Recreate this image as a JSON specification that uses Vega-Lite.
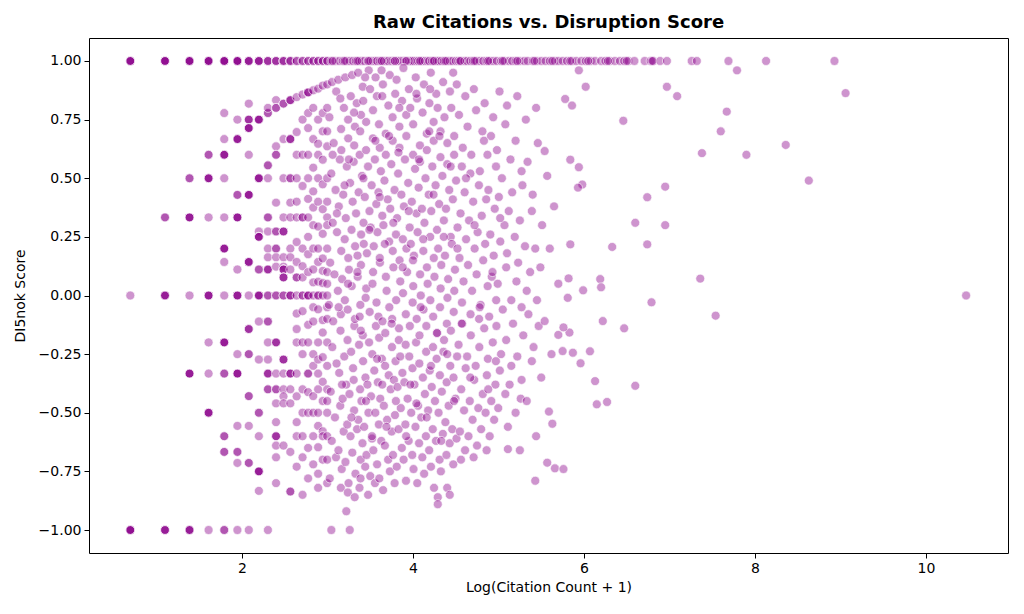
{
"$schema":"https://vega.github.io/schema/vega-lite/v6.json",
"width":919,"height":515,"autosize":"none",
"padding":{"left":89,"top":38,"right":16,"bottom":61},
"background":"white",
"config":{"view":{"stroke":"#000","strokeWidth":1},"font":"DejaVu Sans"},
"title":{"text":"Raw Citations vs. Disruption Score","fontSize":18,"fontWeight":"bold","font":"DejaVu Sans","color":"#000","offset":6,"anchor":"middle"},
"data":{"values":[
{"x":0.693,"y":1},{"x":0.693,"y":1},{"x":0.693,"y":1},{"x":0.693,"y":1},{"x":0.693,"y":1},{"x":0.693,"y":0},{"x":0.693,"y":-1},{"x":0.693,"y":-1},{"x":0.693,"y":-1},{"x":0.693,"y":-1},{"x":0.693,"y":-1},
{"x":1.099,"y":1},{"x":1.099,"y":1},{"x":1.099,"y":1},{"x":1.099,"y":1},{"x":1.099,"y":1},{"x":1.099,"y":0.333},{"x":1.099,"y":0.333},{"x":1.099,"y":0},{"x":1.099,"y":0},{"x":1.099,"y":0},{"x":1.099,"y":0},{"x":1.099,"y":-1},{"x":1.099,"y":-1},{"x":1.099,"y":-1},{"x":1.099,"y":-1},
{"x":1.386,"y":1},{"x":1.386,"y":1},{"x":1.386,"y":1},{"x":1.386,"y":1},{"x":1.386,"y":1},{"x":1.386,"y":0.5},{"x":1.386,"y":0.5},{"x":1.386,"y":0.333},{"x":1.386,"y":0.333},{"x":1.386,"y":0.333},{"x":1.386,"y":0.333},{"x":1.386,"y":0},{"x":1.386,"y":-0.333},{"x":1.386,"y":-0.333},{"x":1.386,"y":-0.333},{"x":1.386,"y":-0.333},{"x":1.386,"y":-1},{"x":1.386,"y":-1},{"x":1.386,"y":-1},{"x":1.386,"y":-1},
{"x":1.609,"y":1},{"x":1.609,"y":1},{"x":1.609,"y":1},{"x":1.609,"y":1},{"x":1.609,"y":1},{"x":1.609,"y":0.6},{"x":1.609,"y":0.6},{"x":1.609,"y":0.5},{"x":1.609,"y":0.5},{"x":1.609,"y":0.5},{"x":1.609,"y":0.5},{"x":1.609,"y":0.333},{"x":1.609,"y":0},{"x":1.609,"y":0},{"x":1.609,"y":0},{"x":1.609,"y":0},{"x":1.609,"y":-0.2},{"x":1.609,"y":-0.333},{"x":1.609,"y":-0.5},{"x":1.609,"y":-0.5},{"x":1.609,"y":-0.5},{"x":1.609,"y":-0.5},{"x":1.609,"y":-1},
{"x":1.792,"y":1},{"x":1.792,"y":1},{"x":1.792,"y":1},{"x":1.792,"y":1},{"x":1.792,"y":1},{"x":1.792,"y":0.778},{"x":1.792,"y":0.667},{"x":1.792,"y":0.6},{"x":1.792,"y":0.6},{"x":1.792,"y":0.6},{"x":1.792,"y":0.6},{"x":1.792,"y":0.5},{"x":1.792,"y":0.333},{"x":1.792,"y":0.2},{"x":1.792,"y":0.2},{"x":1.792,"y":0.2},{"x":1.792,"y":0.2},{"x":1.792,"y":0.143},{"x":1.792,"y":0},{"x":1.792,"y":-0.2},{"x":1.792,"y":-0.2},{"x":1.792,"y":-0.2},{"x":1.792,"y":-0.2},{"x":1.792,"y":-0.333},{"x":1.792,"y":-0.333},{"x":1.792,"y":-0.6},{"x":1.792,"y":-0.6},{"x":1.792,"y":-0.667},{"x":1.792,"y":-0.667},{"x":1.792,"y":-1},{"x":1.792,"y":-1},
{"x":1.946,"y":1},{"x":1.946,"y":1},{"x":1.946,"y":1},{"x":1.946,"y":1},{"x":1.946,"y":1},{"x":1.946,"y":0.75},{"x":1.946,"y":0.667},{"x":1.946,"y":0.667},{"x":1.946,"y":0.667},{"x":1.946,"y":0.667},{"x":1.946,"y":0.429},{"x":1.946,"y":0.429},{"x":1.946,"y":0.333},{"x":1.946,"y":0.333},{"x":1.946,"y":0.333},{"x":1.946,"y":0.333},{"x":1.946,"y":0.111},{"x":1.946,"y":0},{"x":1.946,"y":0},{"x":1.946,"y":0},{"x":1.946,"y":0},{"x":1.946,"y":-0.25},{"x":1.946,"y":-0.333},{"x":1.946,"y":-0.333},{"x":1.946,"y":-0.333},{"x":1.946,"y":-0.333},{"x":1.946,"y":-0.556},{"x":1.946,"y":-0.667},{"x":1.946,"y":-0.667},{"x":1.946,"y":-0.714},{"x":1.946,"y":-1},
{"x":2.079,"y":1},{"x":2.079,"y":1},{"x":2.079,"y":1},{"x":2.079,"y":1},{"x":2.079,"y":0.818},{"x":2.079,"y":0.75},{"x":2.079,"y":0.75},{"x":2.079,"y":0.75},{"x":2.079,"y":0.714},{"x":2.079,"y":0.714},{"x":2.079,"y":0.714},{"x":2.079,"y":0.714},{"x":2.079,"y":0.6},{"x":2.079,"y":0.429},{"x":2.079,"y":0.429},{"x":2.079,"y":0.429},{"x":2.079,"y":0.429},{"x":2.079,"y":0.143},{"x":2.079,"y":0.143},{"x":2.079,"y":0.143},{"x":2.079,"y":0.143},{"x":2.079,"y":0},{"x":2.079,"y":-0.143},{"x":2.079,"y":-0.143},{"x":2.079,"y":-0.143},{"x":2.079,"y":-0.25},{"x":2.079,"y":-0.25},{"x":2.079,"y":-0.429},{"x":2.079,"y":-0.429},{"x":2.079,"y":-0.556},{"x":2.079,"y":-0.714},{"x":2.079,"y":-0.714},{"x":2.079,"y":-1},
{"x":2.197,"y":1},{"x":2.197,"y":1},{"x":2.197,"y":1},{"x":2.197,"y":1},{"x":2.197,"y":0.75},{"x":2.197,"y":0.75},{"x":2.197,"y":0.75},{"x":2.197,"y":0.75},{"x":2.197,"y":0.5},{"x":2.197,"y":0.5},{"x":2.197,"y":0.5},{"x":2.197,"y":0.5},{"x":2.197,"y":0.273},{"x":2.197,"y":0.25},{"x":2.197,"y":0.25},{"x":2.197,"y":0.25},{"x":2.197,"y":0.25},{"x":2.197,"y":0.111},{"x":2.197,"y":0.111},{"x":2.197,"y":0},{"x":2.197,"y":0},{"x":2.197,"y":0},{"x":2.197,"y":0},{"x":2.197,"y":-0.111},{"x":2.197,"y":-0.273},{"x":2.197,"y":-0.5},{"x":2.197,"y":-0.5},{"x":2.197,"y":-0.6},{"x":2.197,"y":-0.75},{"x":2.197,"y":-0.75},{"x":2.197,"y":-0.75},{"x":2.197,"y":-0.75},{"x":2.197,"y":-0.833},
{"x":2.303,"y":1},{"x":2.303,"y":1},{"x":2.303,"y":1},{"x":2.303,"y":0.778},{"x":2.303,"y":0.778},{"x":2.303,"y":0.8},{"x":2.303,"y":0.555},{"x":2.303,"y":0.555},{"x":2.303,"y":0.5},{"x":2.303,"y":0.333},{"x":2.303,"y":0.333},{"x":2.303,"y":0.273},{"x":2.303,"y":0.2},{"x":2.303,"y":0.163},{"x":2.303,"y":0.111},{"x":2.303,"y":0.111},{"x":2.303,"y":0.111},{"x":2.303,"y":0},{"x":2.303,"y":0},{"x":2.303,"y":-0.111},{"x":2.303,"y":-0.111},{"x":2.303,"y":-0.2},{"x":2.303,"y":-0.273},{"x":2.303,"y":-0.333},{"x":2.303,"y":-0.333},{"x":2.303,"y":-0.333},{"x":2.303,"y":-0.4},{"x":2.303,"y":-0.4},{"x":2.303,"y":-1},
{"x":2.398,"y":1},{"x":2.398,"y":1},{"x":2.398,"y":1},{"x":2.398,"y":0.833},{"x":2.398,"y":0.8},{"x":2.398,"y":0.8},{"x":2.398,"y":0.636},{"x":2.398,"y":0.6},{"x":2.398,"y":0.6},{"x":2.398,"y":0.396},{"x":2.398,"y":0.273},{"x":2.398,"y":0.273},{"x":2.398,"y":0.2},{"x":2.398,"y":0.2},{"x":2.398,"y":0.163},{"x":2.398,"y":0.123},{"x":2.398,"y":0},{"x":2.398,"y":0},{"x":2.398,"y":-0.2},{"x":2.398,"y":-0.2},{"x":2.398,"y":-0.2},{"x":2.398,"y":-0.333},{"x":2.398,"y":-0.4},{"x":2.398,"y":-0.4},{"x":2.398,"y":-0.46},{"x":2.398,"y":-0.54},{"x":2.398,"y":-0.6},{"x":2.398,"y":-0.6},{"x":2.398,"y":-0.6},{"x":2.398,"y":-0.64},{"x":2.398,"y":-0.69},{"x":2.398,"y":-0.8},
{"x":2.485,"y":1},{"x":2.485,"y":1},{"x":2.485,"y":1},{"x":2.485,"y":0.818},{"x":2.485,"y":0.818},{"x":2.485,"y":0.667},{"x":2.485,"y":0.5},{"x":2.485,"y":0.333},{"x":2.485,"y":0.273},{"x":2.485,"y":0.273},{"x":2.485,"y":0.273},{"x":2.485,"y":0.163},{"x":2.485,"y":0.123},{"x":2.485,"y":0.111},{"x":2.485,"y":0.111},{"x":2.485,"y":0.111},{"x":2.485,"y":0.077},{"x":2.485,"y":0.077},{"x":2.485,"y":0.077},{"x":2.485,"y":0},{"x":2.485,"y":0},{"x":2.485,"y":-0.273},{"x":2.485,"y":-0.273},{"x":2.485,"y":-0.273},{"x":2.485,"y":-0.333},{"x":2.485,"y":-0.4},{"x":2.485,"y":-0.43},{"x":2.485,"y":-0.46},{"x":2.485,"y":-0.64},
{"x":2.565,"y":1},{"x":2.565,"y":1},{"x":2.565,"y":1},{"x":2.565,"y":0.833},{"x":2.565,"y":0.833},{"x":2.565,"y":0.833},{"x":2.565,"y":0.667},{"x":2.565,"y":0.667},{"x":2.565,"y":0.667},{"x":2.565,"y":0.5},{"x":2.565,"y":0.5},{"x":2.565,"y":0.396},{"x":2.565,"y":0.333},{"x":2.565,"y":0.2},{"x":2.565,"y":0.163},{"x":2.565,"y":0.111},{"x":2.565,"y":0},{"x":2.565,"y":0},{"x":2.565,"y":0},{"x":2.565,"y":-0.333},{"x":2.565,"y":-0.333},{"x":2.565,"y":-0.333},{"x":2.565,"y":-0.4},{"x":2.565,"y":-0.46},{"x":2.565,"y":-0.667},{"x":2.565,"y":-0.836},{"x":2.565,"y":-0.836},
{"x":2.639,"y":1},{"x":2.639,"y":1},{"x":2.639,"y":0.846},{"x":2.639,"y":0.697},{"x":2.639,"y":0.6},{"x":2.639,"y":0.5},{"x":2.639,"y":0.4},{"x":2.639,"y":0.333},{"x":2.639,"y":0.228},{"x":2.639,"y":0.143},{"x":2.639,"y":0.077},{"x":2.639,"y":0.077},{"x":2.639,"y":0},{"x":2.639,"y":-0.077},{"x":2.639,"y":-0.143},{"x":2.639,"y":-0.2},{"x":2.639,"y":-0.333},{"x":2.639,"y":-0.43},{"x":2.639,"y":-0.54},{"x":2.639,"y":-0.6},{"x":2.639,"y":-0.73},
{"x":2.708,"y":1},{"x":2.708,"y":1},{"x":2.708,"y":0.857},{"x":2.708,"y":0.75},{"x":2.708,"y":0.6},{"x":2.708,"y":0.467},{"x":2.708,"y":0.333},{"x":2.708,"y":0.333},{"x":2.708,"y":0.2},{"x":2.708,"y":0.125},{"x":2.708,"y":0.077},{"x":2.708,"y":0},{"x":2.708,"y":0},{"x":2.708,"y":-0.067},{"x":2.708,"y":-0.2},{"x":2.708,"y":-0.25},{"x":2.708,"y":-0.4},{"x":2.708,"y":-0.5},{"x":2.708,"y":-0.6},{"x":2.708,"y":-0.69},{"x":2.708,"y":-0.85},
{"x":2.773,"y":1},{"x":2.773,"y":1},{"x":2.773,"y":0.866},{"x":2.773,"y":0.866},{"x":2.773,"y":0.866},{"x":2.773,"y":0.778},{"x":2.773,"y":0.714},{"x":2.773,"y":0.6},{"x":2.773,"y":0.5},{"x":2.773,"y":0.412},{"x":2.773,"y":0.333},{"x":2.773,"y":0.25},{"x":2.773,"y":0.176},{"x":2.773,"y":0.1},{"x":2.773,"y":0},{"x":2.773,"y":0},{"x":2.773,"y":0},{"x":2.773,"y":-0.125},{"x":2.773,"y":-0.2},{"x":2.773,"y":-0.333},{"x":2.773,"y":-0.333},{"x":2.773,"y":-0.412},{"x":2.773,"y":-0.5},{"x":2.773,"y":-0.65},{"x":2.773,"y":-0.78},
{"x":2.833,"y":1},{"x":2.833,"y":1},{"x":2.833,"y":0.875},{"x":2.833,"y":0.8},{"x":2.833,"y":0.667},{"x":2.833,"y":0.545},{"x":2.833,"y":0.444},{"x":2.833,"y":0.375},{"x":2.833,"y":0.3},{"x":2.833,"y":0.2},{"x":2.833,"y":0.111},{"x":2.833,"y":0.056},{"x":2.833,"y":0},{"x":2.833,"y":-0.05},{"x":2.833,"y":-0.111},{"x":2.833,"y":-0.25},{"x":2.833,"y":-0.3},{"x":2.833,"y":-0.429},{"x":2.833,"y":-0.5},{"x":2.833,"y":-0.6},{"x":2.833,"y":-0.72},
{"x":2.89,"y":1},{"x":2.89,"y":1},{"x":2.89,"y":0.882},{"x":2.89,"y":0.75},{"x":2.89,"y":0.647},{"x":2.89,"y":0.6},{"x":2.89,"y":0.5},{"x":2.89,"y":0.4},{"x":2.89,"y":0.294},{"x":2.89,"y":0.2},{"x":2.89,"y":0.143},{"x":2.89,"y":0.059},{"x":2.89,"y":0},{"x":2.89,"y":0},{"x":2.89,"y":-0.059},{"x":2.89,"y":-0.2},{"x":2.89,"y":-0.273},{"x":2.89,"y":-0.333},{"x":2.89,"y":-0.4},{"x":2.89,"y":-0.5},{"x":2.89,"y":-0.556},{"x":2.89,"y":-0.647},{"x":2.89,"y":-0.76},{"x":2.89,"y":-0.82},
{"x":2.944,"y":1},{"x":2.944,"y":1},{"x":2.944,"y":0.895},{"x":2.944,"y":0.778},{"x":2.944,"y":0.7},{"x":2.944,"y":0.579},{"x":2.944,"y":0.474},{"x":2.944,"y":0.368},{"x":2.944,"y":0.263},{"x":2.944,"y":0.158},{"x":2.944,"y":0.105},{"x":2.944,"y":0.053},{"x":2.944,"y":0},{"x":2.944,"y":-0.105},{"x":2.944,"y":-0.158},{"x":2.944,"y":-0.263},{"x":2.944,"y":-0.368},{"x":2.944,"y":-0.45},{"x":2.944,"y":-0.579},{"x":2.944,"y":-0.6},{"x":2.944,"y":-0.7},
{"x":2.996,"y":1},{"x":2.996,"y":1},{"x":2.996,"y":0.9},{"x":2.996,"y":0.8},{"x":2.996,"y":0.7},{"x":2.996,"y":0.636},{"x":2.996,"y":0.5},{"x":2.996,"y":0.4},{"x":2.996,"y":0.333},{"x":2.996,"y":0.3},{"x":2.996,"y":0.2},{"x":2.996,"y":0.1},{"x":2.996,"y":0.05},{"x":2.996,"y":0},{"x":2.996,"y":-0.05},{"x":2.996,"y":-0.1},{"x":2.996,"y":-0.2},{"x":2.996,"y":-0.3},{"x":2.996,"y":-0.4},{"x":2.996,"y":-0.45},{"x":2.996,"y":-0.5},{"x":2.996,"y":-0.6},{"x":2.996,"y":-0.7},{"x":2.996,"y":-0.8},
{"x":3.045,"y":1},{"x":3.091,"y":1},{"x":3.135,"y":1},{"x":3.178,"y":1},{"x":3.219,"y":1},{"x":3.258,"y":1},{"x":3.296,"y":1},{"x":3.33,"y":1},{"x":3.37,"y":1},{"x":3.4,"y":1},{"x":3.43,"y":1},{"x":3.47,"y":1},{"x":3.5,"y":1},{"x":3.53,"y":1},{"x":3.56,"y":1},{"x":3.58,"y":1},{"x":3.61,"y":1},{"x":3.64,"y":1},{"x":3.66,"y":1},{"x":3.69,"y":1},{"x":3.71,"y":1},{"x":3.74,"y":1},{"x":3.76,"y":1},{"x":3.78,"y":1},{"x":3.81,"y":1},{"x":3.83,"y":1},{"x":3.85,"y":1},{"x":3.87,"y":1},{"x":3.89,"y":1},{"x":3.91,"y":1},{"x":3.93,"y":1},{"x":3.95,"y":1},{"x":3.97,"y":1},{"x":3.99,"y":1},{"x":4.01,"y":1},{"x":4.04,"y":1},{"x":4.06,"y":1},{"x":4.09,"y":1},{"x":4.11,"y":1},{"x":4.14,"y":1},{"x":4.17,"y":1},{"x":4.19,"y":1},{"x":4.22,"y":1},{"x":4.25,"y":1},{"x":4.28,"y":1},{"x":4.3,"y":1},{"x":4.33,"y":1},{"x":4.36,"y":1},{"x":4.4,"y":1},{"x":4.43,"y":1},{"x":4.46,"y":1},{"x":4.5,"y":1},{"x":4.53,"y":1},{"x":4.56,"y":1},{"x":4.6,"y":1},{"x":4.63,"y":1},{"x":4.67,"y":1},{"x":4.7,"y":1},{"x":4.74,"y":1},{"x":4.78,"y":1},{"x":4.82,"y":1},{"x":4.86,"y":1},{"x":4.9,"y":1},{"x":4.94,"y":1},{"x":4.98,"y":1},{"x":5.03,"y":1},{"x":5.07,"y":1},{"x":5.12,"y":1},{"x":5.16,"y":1},{"x":5.2,"y":1},{"x":5.25,"y":1},{"x":5.3,"y":1},{"x":5.34,"y":1},{"x":5.4,"y":1},{"x":5.45,"y":1},{"x":5.5,"y":1},{"x":5.55,"y":1},{"x":5.6,"y":1},{"x":5.66,"y":1},{"x":5.7,"y":1},{"x":5.75,"y":1},{"x":5.8,"y":1},{"x":5.86,"y":1},{"x":5.91,"y":1},{"x":5.97,"y":1},{"x":6.02,"y":1},{"x":6.08,"y":1},{"x":6.13,"y":1},{"x":6.2,"y":1},{"x":6.25,"y":1},{"x":6.3,"y":1},{"x":6.36,"y":1},{"x":6.42,"y":1},{"x":6.47,"y":1},{"x":6.52,"y":1},{"x":6.59,"y":1},{"x":6.71,"y":1},{"x":6.78,"y":1},{"x":6.81,"y":1},{"x":6.89,"y":1},{"x":6.97,"y":1},{"x":7.26,"y":1},{"x":7.32,"y":1},{"x":7.69,"y":1},{"x":8.13,"y":1},{"x":8.93,"y":1},
{"x":3.06,"y":1},{"x":3.2,"y":1},{"x":3.35,"y":1},{"x":3.48,"y":1},{"x":3.63,"y":1},{"x":3.79,"y":1},{"x":3.92,"y":1},{"x":4.08,"y":1},{"x":4.24,"y":1},{"x":4.38,"y":1},{"x":4.55,"y":1},{"x":4.72,"y":1},{"x":4.88,"y":1},{"x":5.05,"y":1},{"x":5.22,"y":1},{"x":5.42,"y":1},{"x":5.63,"y":1},{"x":5.84,"y":1},{"x":6.05,"y":1},{"x":6.28,"y":1},{"x":6.5,"y":1},{"x":6.8,"y":1},
{"x":3.052,"y":0.91},{"x":3.022,"y":0.76},{"x":3.044,"y":0.52},{"x":3.061,"y":0.31},{"x":3.031,"y":0.14},{"x":3.016,"y":-0.04},{"x":3.056,"y":-0.22},{"x":3.037,"y":-0.41},{"x":3.049,"y":-0.62},{"x":3.026,"y":-0.78},{"x":3.045,"y":-1},
{"x":3.102,"y":0.87},{"x":3.072,"y":0.65},{"x":3.094,"y":0.45},{"x":3.111,"y":0.27},{"x":3.081,"y":0.09},{"x":3.066,"y":-0.11},{"x":3.106,"y":-0.29},{"x":3.087,"y":-0.52},{"x":3.099,"y":-0.69},
{"x":3.126,"y":0.92},{"x":3.159,"y":0.71},{"x":3.144,"y":0.58},{"x":3.132,"y":0.38},{"x":3.161,"y":0.19},{"x":3.121,"y":0.02},{"x":3.152,"y":-0.15},{"x":3.137,"y":-0.33},{"x":3.149,"y":-0.47},{"x":3.128,"y":-0.66},{"x":3.156,"y":-0.82},
{"x":3.192,"y":0.8},{"x":3.162,"y":0.62},{"x":3.184,"y":0.43},{"x":3.201,"y":0.24},{"x":3.171,"y":0.07},{"x":3.156,"y":-0.08},{"x":3.196,"y":-0.26},{"x":3.177,"y":-0.44},{"x":3.189,"y":-0.58},{"x":3.166,"y":-0.74},{"x":3.22,"y":-0.92},
{"x":3.208,"y":0.93},{"x":3.241,"y":0.75},{"x":3.226,"y":0.55},{"x":3.214,"y":0.33},{"x":3.243,"y":0.16},{"x":3.203,"y":-0.02},{"x":3.234,"y":-0.19},{"x":3.219,"y":-0.38},{"x":3.231,"y":-0.55},{"x":3.21,"y":-0.71},{"x":3.238,"y":-0.84},{"x":3.26,"y":-1},
{"x":3.272,"y":0.85},{"x":3.242,"y":0.67},{"x":3.264,"y":0.48},{"x":3.281,"y":0.28},{"x":3.251,"y":0.11},{"x":3.236,"y":-0.06},{"x":3.276,"y":-0.24},{"x":3.257,"y":-0.42},{"x":3.269,"y":-0.6},{"x":3.246,"y":-0.8},
{"x":3.288,"y":0.94},{"x":3.321,"y":0.72},{"x":3.306,"y":0.57},{"x":3.294,"y":0.4},{"x":3.323,"y":0.21},{"x":3.283,"y":0.04},{"x":3.314,"y":-0.13},{"x":3.299,"y":-0.31},{"x":3.311,"y":-0.49},{"x":3.29,"y":-0.67},{"x":3.318,"y":-0.86},
{"x":3.342,"y":0.82},{"x":3.312,"y":0.64},{"x":3.334,"y":0.35},{"x":3.351,"y":0.17},{"x":3.321,"y":-0.1},{"x":3.306,"y":-0.36},{"x":3.346,"y":-0.57},{"x":3.327,"y":-0.76},
{"x":3.358,"y":0.95},{"x":3.391,"y":0.77},{"x":3.376,"y":0.6},{"x":3.364,"y":0.44},{"x":3.393,"y":0.26},{"x":3.353,"y":0.08},{"x":3.384,"y":-0.04},{"x":3.369,"y":-0.21},{"x":3.381,"y":-0.4},{"x":3.36,"y":-0.53},{"x":3.388,"y":-0.7},{"x":3.374,"y":-0.82},
{"x":3.412,"y":0.89},{"x":3.382,"y":0.7},{"x":3.404,"y":0.51},{"x":3.421,"y":0.31},{"x":3.391,"y":0.13},{"x":3.376,"y":-0.09},{"x":3.416,"y":-0.28},{"x":3.397,"y":-0.45},{"x":3.409,"y":-0.63},{"x":3.386,"y":-0.78},
{"x":3.418,"y":0.83},{"x":3.451,"y":0.62},{"x":3.436,"y":0.42},{"x":3.424,"y":0.22},{"x":3.453,"y":0.03},{"x":3.413,"y":-0.17},{"x":3.444,"y":-0.35},{"x":3.429,"y":-0.56},{"x":3.441,"y":-0.73},
{"x":3.482,"y":0.96},{"x":3.452,"y":0.74},{"x":3.474,"y":0.55},{"x":3.491,"y":0.36},{"x":3.461,"y":0.18},{"x":3.446,"y":-0.01},{"x":3.486,"y":-0.2},{"x":3.467,"y":-0.38},{"x":3.479,"y":-0.5},{"x":3.456,"y":-0.68},{"x":3.475,"y":-0.85},
{"x":3.498,"y":0.88},{"x":3.531,"y":0.67},{"x":3.516,"y":0.47},{"x":3.504,"y":0.29},{"x":3.533,"y":0.1},{"x":3.493,"y":-0.07},{"x":3.524,"y":-0.25},{"x":3.509,"y":-0.43},{"x":3.521,"y":-0.61},{"x":3.5,"y":-0.77},
{"x":3.562,"y":0.93},{"x":3.532,"y":0.79},{"x":3.554,"y":0.58},{"x":3.571,"y":0.39},{"x":3.541,"y":0.21},{"x":3.526,"y":0.05},{"x":3.566,"y":-0.13},{"x":3.547,"y":-0.32},{"x":3.559,"y":-0.5},{"x":3.536,"y":-0.66},{"x":3.555,"y":-0.8},
{"x":3.578,"y":0.85},{"x":3.611,"y":0.63},{"x":3.596,"y":0.44},{"x":3.584,"y":0.27},{"x":3.613,"y":0.14},{"x":3.573,"y":-0.03},{"x":3.604,"y":-0.18},{"x":3.589,"y":-0.37},{"x":3.601,"y":-0.55},{"x":3.58,"y":-0.72},
{"x":3.632,"y":0.96},{"x":3.602,"y":0.73},{"x":3.624,"y":0.53},{"x":3.641,"y":0.34},{"x":3.611,"y":0.16},{"x":3.596,"y":-0.09},{"x":3.636,"y":-0.27},{"x":3.617,"y":-0.44},{"x":3.629,"y":-0.62},{"x":3.606,"y":-0.78},
{"x":3.648,"y":0.9},{"x":3.681,"y":0.69},{"x":3.666,"y":0.49},{"x":3.654,"y":0.3},{"x":3.683,"y":0.08},{"x":3.643,"y":-0.11},{"x":3.674,"y":-0.3},{"x":3.659,"y":-0.47},{"x":3.671,"y":-0.64},{"x":3.65,"y":-0.83},
{"x":3.712,"y":0.81},{"x":3.682,"y":0.6},{"x":3.704,"y":0.41},{"x":3.721,"y":0.23},{"x":3.691,"y":0.02},{"x":3.676,"y":-0.16},{"x":3.716,"y":-0.34},{"x":3.697,"y":-0.53},{"x":3.709,"y":-0.7},
{"x":3.728,"y":0.94},{"x":3.761,"y":0.76},{"x":3.746,"y":0.56},{"x":3.734,"y":0.37},{"x":3.763,"y":0.19},{"x":3.723,"y":-0.05},{"x":3.754,"y":-0.22},{"x":3.739,"y":-0.4},{"x":3.751,"y":-0.58},{"x":3.73,"y":-0.75},
{"x":3.792,"y":0.86},{"x":3.762,"y":0.66},{"x":3.784,"y":0.45},{"x":3.801,"y":0.26},{"x":3.771,"y":0.12},{"x":3.756,"y":-0.1},{"x":3.796,"y":-0.28},{"x":3.777,"y":-0.36},{"x":3.789,"y":-0.51},{"x":3.766,"y":-0.68},{"x":3.785,"y":-0.8},
{"x":3.808,"y":0.92},{"x":3.841,"y":0.72},{"x":3.826,"y":0.52},{"x":3.814,"y":0.33},{"x":3.843,"y":0.15},{"x":3.803,"y":-0.02},{"x":3.834,"y":-0.19},{"x":3.819,"y":-0.39},{"x":3.831,"y":-0.57},{"x":3.81,"y":-0.73},
{"x":3.872,"y":0.83},{"x":3.842,"y":0.63},{"x":3.864,"y":0.43},{"x":3.881,"y":0.24},{"x":3.851,"y":0.06},{"x":3.836,"y":-0.14},{"x":3.876,"y":-0.33},{"x":3.857,"y":-0.48},{"x":3.869,"y":-0.65},
{"x":3.888,"y":0.97},{"x":3.921,"y":0.77},{"x":3.906,"y":0.58},{"x":3.894,"y":0.38},{"x":3.923,"y":0.2},{"x":3.883,"y":0.01},{"x":3.914,"y":-0.21},{"x":3.899,"y":-0.37},{"x":3.911,"y":-0.55},{"x":3.89,"y":-0.7},{"x":3.918,"y":-0.79},
{"x":3.952,"y":0.88},{"x":3.922,"y":0.68},{"x":3.944,"y":0.48},{"x":3.961,"y":0.29},{"x":3.931,"y":0.1},{"x":3.916,"y":-0.08},{"x":3.956,"y":-0.26},{"x":3.937,"y":-0.44},{"x":3.949,"y":-0.62},
{"x":3.968,"y":0.8},{"x":4.001,"y":0.6},{"x":3.986,"y":0.4},{"x":3.974,"y":0.22},{"x":4.003,"y":0.04},{"x":3.963,"y":-0.13},{"x":3.994,"y":-0.31},{"x":3.979,"y":-0.5},{"x":3.991,"y":-0.68},
{"x":4.032,"y":0.93},{"x":4.002,"y":0.73},{"x":4.024,"y":0.54},{"x":4.041,"y":0.35},{"x":4.011,"y":0.17},{"x":3.996,"y":-0.03},{"x":4.036,"y":-0.2},{"x":4.017,"y":-0.38},{"x":4.029,"y":-0.56},{"x":4.006,"y":-0.74},
{"x":4.048,"y":0.84},{"x":4.081,"y":0.64},{"x":4.066,"y":0.46},{"x":4.054,"y":0.27},{"x":4.083,"y":0.09},{"x":4.043,"y":-0.1},{"x":4.074,"y":-0.29},{"x":4.059,"y":-0.47},{"x":4.071,"y":-0.63},{"x":4.05,"y":-0.8},
{"x":4.112,"y":0.78},{"x":4.082,"y":0.57},{"x":4.104,"y":0.37},{"x":4.121,"y":0.19},{"x":4.091,"y":0},{"x":4.076,"y":-0.17},{"x":4.116,"y":-0.35},{"x":4.097,"y":-0.52},{"x":4.109,"y":-0.69},
{"x":4.128,"y":0.9},{"x":4.161,"y":0.69},{"x":4.146,"y":0.5},{"x":4.134,"y":0.31},{"x":4.163,"y":0.12},{"x":4.123,"y":-0.06},{"x":4.154,"y":-0.24},{"x":4.139,"y":-0.42},{"x":4.151,"y":-0.6},{"x":4.13,"y":-0.76},
{"x":4.192,"y":0.82},{"x":4.162,"y":0.62},{"x":4.184,"y":0.43},{"x":4.201,"y":0.25},{"x":4.171,"y":0.05},{"x":4.156,"y":-0.13},{"x":4.196,"y":-0.32},{"x":4.177,"y":-0.49},{"x":4.189,"y":-0.66},
{"x":4.208,"y":0.95},{"x":4.241,"y":0.74},{"x":4.226,"y":0.55},{"x":4.214,"y":0.36},{"x":4.243,"y":0.16},{"x":4.203,"y":-0.02},{"x":4.234,"y":-0.22},{"x":4.219,"y":-0.39},{"x":4.231,"y":-0.57},{"x":4.21,"y":-0.73},
{"x":4.272,"y":0.86},{"x":4.242,"y":0.66},{"x":4.264,"y":0.47},{"x":4.281,"y":0.28},{"x":4.251,"y":0.08},{"x":4.236,"y":-0.09},{"x":4.276,"y":-0.27},{"x":4.257,"y":-0.45},{"x":4.269,"y":-0.62},{"x":4.246,"y":-0.82},
{"x":4.288,"y":0.8},{"x":4.321,"y":0.59},{"x":4.306,"y":0.39},{"x":4.294,"y":0.2},{"x":4.323,"y":0.03},{"x":4.283,"y":-0.16},{"x":4.314,"y":-0.34},{"x":4.299,"y":-0.5},{"x":4.311,"y":-0.7},{"x":4.29,"y":-0.86},{"x":4.29,"y":-0.89},
{"x":4.352,"y":0.91},{"x":4.322,"y":0.7},{"x":4.344,"y":0.51},{"x":4.361,"y":0.32},{"x":4.331,"y":0.13},{"x":4.316,"y":-0.05},{"x":4.356,"y":-0.24},{"x":4.337,"y":-0.41},{"x":4.349,"y":-0.59},{"x":4.326,"y":-0.75},
{"x":4.368,"y":0.76},{"x":4.401,"y":0.56},{"x":4.386,"y":0.37},{"x":4.374,"y":0.17},{"x":4.403,"y":-0.01},{"x":4.363,"y":-0.19},{"x":4.394,"y":-0.37},{"x":4.379,"y":-0.54},{"x":4.391,"y":-0.68},{"x":4.4,"y":-0.82},
{"x":4.432,"y":0.87},{"x":4.402,"y":0.65},{"x":4.424,"y":0.45},{"x":4.441,"y":0.25},{"x":4.411,"y":0.07},{"x":4.396,"y":-0.12},{"x":4.436,"y":-0.3},{"x":4.417,"y":-0.47},{"x":4.429,"y":-0.63},{"x":4.43,"y":-0.85},
{"x":4.448,"y":0.8},{"x":4.481,"y":0.6},{"x":4.466,"y":0.41},{"x":4.454,"y":0.22},{"x":4.483,"y":0.02},{"x":4.443,"y":-0.15},{"x":4.474,"y":-0.35},{"x":4.459,"y":-0.57},{"x":4.471,"y":-0.72},
{"x":4.512,"y":0.9},{"x":4.482,"y":0.68},{"x":4.504,"y":0.49},{"x":4.521,"y":0.29},{"x":4.491,"y":0.11},{"x":4.476,"y":-0.07},{"x":4.516,"y":-0.26},{"x":4.497,"y":-0.44},{"x":4.509,"y":-0.61},
{"x":4.538,"y":0.77},{"x":4.571,"y":0.55},{"x":4.556,"y":0.35},{"x":4.544,"y":0.16},{"x":4.573,"y":-0.03},{"x":4.533,"y":-0.21},{"x":4.564,"y":-0.4},{"x":4.549,"y":-0.58},{"x":4.561,"y":-0.7},
{"x":4.612,"y":0.85},{"x":4.582,"y":0.63},{"x":4.604,"y":0.44},{"x":4.621,"y":0.24},{"x":4.591,"y":0.06},{"x":4.576,"y":-0.12},{"x":4.616,"y":-0.31},{"x":4.597,"y":-0.49},{"x":4.609,"y":-0.66},
{"x":4.638,"y":0.72},{"x":4.671,"y":0.52},{"x":4.656,"y":0.32},{"x":4.644,"y":0.13},{"x":4.673,"y":-0.08},{"x":4.633,"y":-0.26},{"x":4.664,"y":-0.45},{"x":4.649,"y":-0.6},
{"x":4.712,"y":0.88},{"x":4.682,"y":0.6},{"x":4.704,"y":0.4},{"x":4.721,"y":0.2},{"x":4.691,"y":0.02},{"x":4.676,"y":-0.17},{"x":4.716,"y":-0.36},{"x":4.697,"y":-0.53},{"x":4.709,"y":-0.69},
{"x":4.738,"y":0.79},{"x":4.771,"y":0.47},{"x":4.756,"y":0.27},{"x":4.744,"y":0.09},{"x":4.773,"y":-0.1},{"x":4.733,"y":-0.3},{"x":4.764,"y":-0.48},{"x":4.749,"y":-0.64},
{"x":4.812,"y":0.7},{"x":4.782,"y":0.53},{"x":4.804,"y":0.34},{"x":4.821,"y":0.15},{"x":4.791,"y":-0.04},{"x":4.776,"y":-0.22},{"x":4.816,"y":-0.42},{"x":4.797,"y":-0.57},
{"x":4.838,"y":0.82},{"x":4.871,"y":0.6},{"x":4.856,"y":0.41},{"x":4.844,"y":0.22},{"x":4.873,"y":0.04},{"x":4.833,"y":-0.14},{"x":4.864,"y":-0.34},{"x":4.849,"y":-0.5},{"x":4.861,"y":-0.66},
{"x":4.912,"y":0.68},{"x":4.882,"y":0.45},{"x":4.904,"y":0.26},{"x":4.921,"y":0.08},{"x":4.891,"y":-0.09},{"x":4.876,"y":-0.27},{"x":4.916,"y":-0.45},{"x":4.897,"y":-0.6},
{"x":4.938,"y":0.76},{"x":4.971,"y":0.55},{"x":4.956,"y":0.37},{"x":4.944,"y":0.17},{"x":4.973,"y":-0.02},{"x":4.933,"y":-0.2},{"x":4.964,"y":-0.38},{"x":4.949,"y":-0.53},
{"x":5.012,"y":0.87},{"x":4.982,"y":0.62},{"x":5.004,"y":0.42},{"x":5.021,"y":0.23},{"x":4.991,"y":0.05},{"x":4.976,"y":-0.13},{"x":5.016,"y":-0.32},{"x":4.997,"y":-0.48},
{"x":5.08,"y":0.73},{"x":5.04,"y":0.5},{"x":5.07,"y":0.3},{"x":5.09,"y":0.12},{"x":5.05,"y":-0.06},{"x":5.03,"y":-0.25},{"x":5.08,"y":-0.42},{"x":5.11,"y":-0.655},
{"x":5.1,"y":0.81},{"x":5.14,"y":0.58},{"x":5.12,"y":0.36},{"x":5.1,"y":0.18},{"x":5.15,"y":-0.02},{"x":5.09,"y":-0.19},{"x":5.13,"y":-0.38},{"x":5.11,"y":-0.56},
{"x":5.2,"y":0.66},{"x":5.16,"y":0.44},{"x":5.19,"y":0.25},{"x":5.21,"y":0.06},{"x":5.17,"y":-0.12},{"x":5.15,"y":-0.3},{"x":5.2,"y":-0.5},
{"x":5.22,"y":0.85},{"x":5.27,"y":0.53},{"x":5.25,"y":0.32},{"x":5.23,"y":0.14},{"x":5.27,"y":-0.05},{"x":5.22,"y":-0.26},{"x":5.26,"y":-0.44},{"x":5.25,"y":-0.66},
{"x":5.32,"y":0.75},{"x":5.28,"y":0.47},{"x":5.31,"y":0.21},{"x":5.33,"y":0.02},{"x":5.29,"y":-0.17},{"x":5.27,"y":-0.36},
{"x":5.34,"y":0.57},{"x":5.39,"y":0.36},{"x":5.37,"y":0.1},{"x":5.35,"y":-0.08},{"x":5.39,"y":-0.28},{"x":5.33,"y":-0.45},
{"x":5.44,"y":0.8},{"x":5.4,"y":0.43},{"x":5.43,"y":0.2},{"x":5.45,"y":-0.02},{"x":5.41,"y":-0.22},{"x":5.44,"y":-0.6},{"x":5.43,"y":-0.79},
{"x":5.46,"y":0.65},{"x":5.51,"y":0.3},{"x":5.49,"y":0.12},{"x":5.47,"y":-0.13},{"x":5.5,"y":-0.35},
{"x":3.06,"y":0.6},{"x":3.11,"y":0.35},{"x":3.13,"y":-0.05},{"x":3.17,"y":-0.38},{"x":3.2,"y":0.47},{"x":3.24,"y":0.05},{"x":3.28,"y":-0.52},{"x":3.31,"y":0.78},{"x":3.35,"y":0.1},{"x":3.39,"y":-0.15},{"x":3.42,"y":0.5},{"x":3.45,"y":-0.45},{"x":3.49,"y":0.28},{"x":3.52,"y":-0.6},{"x":3.56,"y":0.66},{"x":3.58,"y":-0.27},{"x":3.61,"y":0.42},{"x":3.64,"y":-0.38},{"x":3.67,"y":0.22},{"x":3.69,"y":-0.56},{"x":3.72,"y":0.68},{"x":3.75,"y":-0.12},{"x":3.77,"y":0.31},{"x":3.8,"y":-0.45},{"x":3.83,"y":0.61},{"x":3.85,"y":-0.26},{"x":3.88,"y":0.12},{"x":3.92,"y":-0.6},{"x":3.95,"y":0.36},{"x":3.97,"y":-0.38},{"x":4.0,"y":0.15},{"x":4.04,"y":-0.46},{"x":4.07,"y":0.58},{"x":4.09,"y":-0.05},{"x":4.12,"y":0.24},{"x":4.16,"y":-0.52},{"x":4.19,"y":0.7},{"x":4.21,"y":-0.3},{"x":4.24,"y":0.43},{"x":4.28,"y":-0.16},{"x":4.31,"y":0.68},{"x":4.33,"y":-0.62},{"x":4.36,"y":0.25},{"x":4.4,"y":-0.25},{"x":4.44,"y":0.55},{"x":4.48,"y":-0.45},{"x":4.52,"y":0.2},{"x":4.57,"y":-0.12},{"x":4.62,"y":0.5},{"x":4.67,"y":-0.35},{"x":4.72,"y":0.3},{"x":4.78,"y":-0.05},{"x":4.83,"y":0.66},{"x":4.88,"y":-0.4},{"x":4.93,"y":0.1},{"x":4.97,"y":-0.28},{"x":5.02,"y":0.33},{"x":3.15,"y":0.84},{"x":3.25,"y":0.58},{"x":3.44,"y":0.93},{"x":3.64,"y":0.85},{"x":3.84,"y":0.8},{"x":4.04,"y":0.86},{"x":4.2,"y":0.88},{"x":4.47,"y":0.95},
{"x":5.54,"y":0.616},{"x":5.57,"y":0.51},{"x":5.54,"y":-0.109},{"x":5.59,"y":-0.495},{"x":5.63,"y":-0.547},{"x":5.57,"y":-0.713},{"x":5.66,"y":-0.737},{"x":5.76,"y":-0.74},
{"x":5.6,"y":0.2},{"x":5.62,"y":-0.25},{"x":5.65,"y":0.38},{"x":5.7,"y":0.05},
{"x":5.78,"y":0.838},{"x":5.86,"y":0.81},{"x":5.84,"y":0.579},{"x":5.94,"y":0.547},{"x":5.98,"y":0.473},{"x":5.93,"y":0.46},{"x":5.84,"y":0.218},{"x":5.82,"y":0.073},{"x":5.81,"y":-0.01},
{"x":5.7,"y":-0.168},{"x":5.83,"y":-0.158},{"x":5.76,"y":-0.136},{"x":5.75,"y":-0.237},{"x":5.87,"y":-0.244},{"x":5.96,"y":-0.289},
{"x":5.94,"y":0.96},{"x":6.02,"y":0.89},{"x":6.19,"y":0.07},{"x":6.2,"y":0.035},{"x":5.99,"y":0.022},{"x":6.22,"y":-0.109},{"x":6.47,"y":-0.14},{"x":6.07,"y":-0.238},{"x":6.13,"y":-0.365},{"x":6.6,"y":-0.385},{"x":6.15,"y":-0.464},{"x":6.27,"y":-0.454},
{"x":6.46,"y":0.745},{"x":6.33,"y":0.207},{"x":6.6,"y":0.31},{"x":6.74,"y":0.419},{"x":6.74,"y":0.218},{"x":6.95,"y":0.464},{"x":6.95,"y":0.3},{"x":6.97,"y":0.89},{"x":7.09,"y":0.85},{"x":6.79,"y":-0.029},{"x":7.36,"y":0.072},{"x":7.38,"y":0.607},{"x":7.6,"y":0.7},{"x":7.67,"y":0.784},{"x":7.79,"y":0.96},{"x":7.54,"y":-0.086},{"x":7.9,"y":0.6},{"x":8.36,"y":0.642},{"x":8.63,"y":0.49},{"x":9.06,"y":0.863},{"x":10.47,"y":0}
]},
"mark":{"type":"circle","size":80,"color":"#8B008B","fillOpacity":0.42,"stroke":"white","strokeWidth":0.7,"strokeOpacity":0.9},
"encoding":{
"x":{"field":"x","type":"quantitative","scale":{"domain":[0.21,10.96],"nice":false,"zero":false},
"axis":{"title":"Log(Citation Count + 1)","values":[2,4,6,8,10],"format":"d","grid":false,"domain":false,"tickColor":"#000","tickSize":5,"labelColor":"#000","labelFontSize":14,"labelFont":"DejaVu Sans","titleFont":"DejaVu Sans","titleFontSize":14,"titleFontWeight":"normal","titleColor":"#000","titlePadding":5,"labelPadding":3}},
"y":{"field":"y","type":"quantitative","scale":{"domain":[-1.098,1.098],"nice":false,"zero":false},
"axis":{"title":"DI5nok Score","values":[-1,-0.75,-0.5,-0.25,0,0.25,0.5,0.75,1],"format":".2f","grid":false,"domain":false,"tickColor":"#000","tickSize":5,"labelColor":"#000","labelFontSize":14,"labelFont":"DejaVu Sans","titleFont":"DejaVu Sans","titleFontSize":14,"titleFontWeight":"normal","titleColor":"#000","titlePadding":11,"labelPadding":3}}
}
}
